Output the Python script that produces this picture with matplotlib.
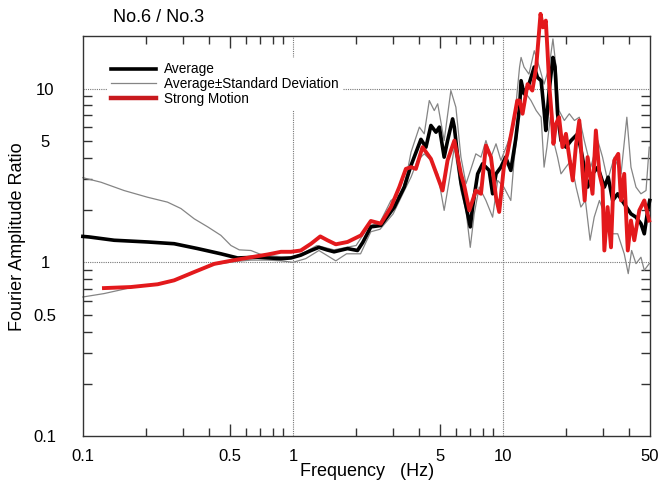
import matplotlib
matplotlib.use("Agg")
import matplotlib.pyplot as plt
from matplotlib.ticker import FixedLocator, FixedFormatter, NullFormatter

plt.rcParams['font.family'] = ['Liberation Sans', 'DejaVu Sans']

# Average
avg_freq = [0.1, 0.107, 0.141, 0.203, 0.272, 0.352, 0.454, 0.545, 0.679, 0.877, 0.978,
            1.09, 1.22, 1.33, 1.45, 1.57, 1.82, 2.03, 2.15, 2.35, 2.62, 3.04, 3.39, 3.65,
            4.07, 4.30, 4.54, 4.80, 4.98, 5.25, 5.45, 5.76, 5.87, 6.09, 6.31, 6.79, 6.99,
            7.17, 7.58, 8.0, 8.6, 8.93, 9.27, 9.78, 10.3, 10.9, 11.5, 12.0, 12.2, 12.6,
            13.3, 14.1, 14.6, 15.2, 15.7, 16.0, 16.6, 17.3, 17.7, 18.2, 18.9, 19.95, 21.1,
            22.7, 23.9, 25.3, 26.7, 28.3, 30.4, 31.7, 33.3, 35.2, 37.8, 40.7, 43.0, 45.4,
            47.1, 48.9, 50.0]
avg_ratio = [1.41, 1.40, 1.34, 1.31, 1.28, 1.20, 1.12, 1.06, 1.07, 1.05, 1.06,
             1.10, 1.17, 1.22, 1.18, 1.15, 1.20, 1.17, 1.30, 1.60, 1.63, 2.08, 2.71, 3.61,
             5.10, 4.60, 6.13, 5.61, 6.00, 4.03, 5.02, 6.69, 6.00, 4.03, 2.89, 1.90, 1.60,
             2.08, 3.23, 3.69, 3.38, 2.48, 3.23, 3.53, 4.03, 3.38, 5.10, 7.81, 11.1, 9.33,
             10.6, 13.3, 11.6, 11.1, 7.47, 5.74, 9.74, 15.1, 13.3, 7.16, 5.02, 4.60, 5.02,
             5.49, 4.03, 2.71, 3.23, 3.53, 2.71, 3.09, 2.27, 2.48, 2.17, 1.90, 1.82, 1.67,
             1.46, 1.99, 2.27]

# Average + Standard Deviation
up_freq = [0.1, 0.122, 0.157, 0.203, 0.253, 0.293, 0.339, 0.393, 0.454, 0.507, 0.555,
           0.631, 0.704, 0.85, 1.0, 1.15, 1.3, 1.57, 1.8, 2.0, 2.3, 2.6, 2.93, 3.3, 3.5,
           3.65, 4.0, 4.22, 4.46, 4.71, 4.89, 5.25, 5.65, 5.97, 6.31, 6.67, 6.92, 7.43,
           7.86, 8.30, 8.77, 9.27, 9.78, 10.5, 11.3, 12.0, 12.2, 12.6, 13.3, 14.1, 14.9,
           15.7, 16.6, 17.3, 17.9, 18.5, 19.6, 20.7, 21.9, 23.1, 24.4, 26.2, 28.3, 29.8,
           31.5, 33.9, 36.5, 38.9, 40.7, 43.0, 45.4, 48.0, 49.7]
up_ratio = [3.07, 2.89, 2.59, 2.37, 2.22, 2.04, 1.78, 1.60, 1.43, 1.25, 1.18,
            1.17, 1.11, 1.08, 1.07, 1.15, 1.25, 1.18, 1.22, 1.25, 1.62, 1.70, 2.27, 2.50, 3.30,
            4.30, 6.00, 5.49, 8.53, 7.47, 8.17, 5.02, 9.74, 7.81, 4.03, 2.83, 3.23, 4.21,
            4.03, 5.02, 4.03, 4.81, 3.86, 4.81, 6.27, 13.3, 15.1, 13.3, 12.1, 16.5, 13.3,
            10.6, 13.3, 19.3, 13.3, 7.47, 6.55, 7.16, 6.55, 6.84, 5.02, 3.53, 5.02, 4.03,
            2.96, 4.03, 3.23, 6.84, 3.53, 2.71, 2.48, 2.59, 4.60]

# Average - Standard Deviation
lo_freq = [0.1, 0.126, 0.169, 0.227, 0.272, 0.339, 0.422, 0.526, 0.631, 0.758, 0.877,
           1.0, 1.15, 1.33, 1.6, 1.8, 2.1, 2.35, 2.6, 3.0, 3.4, 3.65, 3.92, 4.22, 4.54,
           4.89, 5.25, 5.55, 5.87, 6.31, 6.67, 6.99, 7.30, 7.71, 8.30, 8.93, 9.44, 10.1,
           10.9, 11.3, 11.7, 12.2, 12.9, 13.6, 14.4, 15.2, 15.7, 16.2, 16.8, 17.4, 18.2,
           18.9, 19.95, 21.1, 22.3, 23.5, 24.7, 26.0, 27.2, 28.8, 30.4, 32.7, 35.2, 37.8,
           39.5, 41.0, 43.0, 45.4, 47.1, 49.7]
lo_ratio = [0.632, 0.661, 0.715, 0.745, 0.785, 0.875, 0.97, 1.01, 1.03, 1.03, 1.02,
            1.0, 1.05, 1.17, 1.02, 1.12, 1.12, 1.50, 1.55, 1.90, 2.60, 3.09, 3.86, 4.21, 3.86,
            3.23, 1.99, 2.96, 4.60, 2.59, 1.99, 1.22, 1.90, 2.71, 2.27, 1.82, 2.96, 2.71,
            2.27, 3.86, 5.49, 10.2, 9.33, 8.53, 7.47, 6.84, 3.53, 4.60, 6.84, 5.02, 4.03,
            3.23, 3.53, 3.86, 2.71, 2.08, 2.27, 1.34, 1.82, 2.27, 1.90, 1.46, 1.46, 1.12,
            0.861, 1.17, 0.983, 1.07, 0.90, 0.983]

# Strong Motion
sm_freq = [0.126, 0.169, 0.227, 0.272, 0.339, 0.422, 0.526, 0.631, 0.758, 0.877, 0.978,
           1.09, 1.22, 1.35, 1.46, 1.60, 1.82, 2.11, 2.35, 2.62, 2.93, 3.21, 3.45, 3.65,
           3.85, 4.14, 4.54, 4.89, 5.16, 5.45, 5.87, 6.31, 6.54, 6.92, 7.43, 7.86, 8.30,
           8.77, 9.27, 9.60, 10.1, 10.5, 11.1, 11.7, 12.0, 12.4, 13.1, 13.8, 14.4, 15.1,
           15.5, 16.0, 16.3, 16.6, 17.1, 17.4, 17.9, 18.5, 19.2, 19.95, 20.7, 21.5, 22.3,
           23.1, 23.9, 24.5, 25.3, 26.7, 27.7, 28.8, 29.8, 30.4, 31.5, 32.7, 33.9, 35.4,
           36.5, 37.8, 39.3, 40.7, 42.2, 44.6, 47.1, 49.7]
sm_ratio = [0.711, 0.721, 0.748, 0.788, 0.88, 0.98, 1.03, 1.07, 1.11, 1.15, 1.15,
            1.17, 1.28, 1.41, 1.34, 1.27, 1.31, 1.43, 1.73, 1.67, 2.08, 2.71, 3.45, 3.53,
            3.45, 4.60, 3.94, 3.09, 2.59, 3.86, 5.02, 3.23, 2.77, 1.99, 2.59, 2.48, 4.70,
            4.03, 2.37, 1.95, 3.53, 4.21, 6.00, 8.53, 8.53, 7.16, 10.6, 9.74, 13.3, 26.9,
            22.5, 24.6, 16.5, 10.6, 6.84, 4.81, 6.27, 6.84, 4.60, 5.49, 4.03, 2.96, 4.81,
            6.55, 3.38, 2.27, 4.03, 2.48, 5.74, 3.23, 2.71, 1.17, 2.08, 1.22, 3.86, 4.21,
            2.27, 3.23, 1.17, 1.74, 1.34, 1.99, 2.27, 1.74]

x_ticks = [0.1, 0.5, 1, 5, 10, 50]
x_labels = ['0.1', '0.5', '1', '5', '10', '50']
y_ticks = [0.1, 0.5, 1, 5, 10]
y_labels = ['0.1', '0.5', '1', '5', '10']
minor_x = [0.2, 0.3, 0.4, 0.6, 0.7, 0.8, 0.9, 2, 3, 4, 6, 7, 8, 9, 20, 30, 40]
minor_y = [0.2, 0.3, 0.4, 0.6, 0.7, 0.8, 0.9, 2, 3, 4, 6, 7, 8, 9]

fig = plt.figure(figsize=(6.63, 4.83), dpi=100)
ax = fig.add_axes([0.125, 0.097, 0.855, 0.828])

for v in (1, 10):
    ax.axvline(v, color='#777777', ls=(0, (1, 1)), lw=0.8, zorder=1)
    ax.axhline(v, color='#777777', ls=(0, (1, 1)), lw=0.8, zorder=1)

ax.plot(up_freq, up_ratio, color='#858585', lw=0.9, zorder=2, clip_on=False)
ax.plot(lo_freq, lo_ratio, color='#858585', lw=0.9, zorder=2, clip_on=False)
ax.plot(avg_freq, avg_ratio, color='black', lw=2.6, zorder=3, clip_on=False)
ax.plot(sm_freq, sm_ratio, color='#e3191c', lw=2.8, zorder=4, clip_on=False)

h_avg = plt.Line2D([], [], color='black', lw=2.6)
h_sd = plt.Line2D([], [], color='#858585', lw=0.9)
h_sm = plt.Line2D([], [], color='#c81a1e', lw=3.2)
leg = ax.legend([h_avg, h_sd, h_sm], ['Average', 'Average\u00b1Standard Deviation', 'Strong Motion'],
                loc='upper left', bbox_to_anchor=(0.03, 0.962), fontsize=9.8,
                handlelength=3.3, handletextpad=0.6, labelspacing=0.05,
                frameon=True, fancybox=False, framealpha=1, facecolor='white',
                edgecolor='none', borderpad=0.3)

ax.set_xscale('log')
ax.set_yscale('log')
ax.set_xlim(0.1, 50)
ax.set_ylim(0.1, 20)

ax.xaxis.set_major_locator(FixedLocator(x_ticks))
ax.xaxis.set_major_formatter(FixedFormatter(x_labels))
ax.xaxis.set_minor_locator(FixedLocator(minor_x))
ax.xaxis.set_minor_formatter(NullFormatter())
ax.yaxis.set_major_locator(FixedLocator(y_ticks))
ax.yaxis.set_major_formatter(FixedFormatter(y_labels))
ax.yaxis.set_minor_locator(FixedLocator(minor_y))
ax.yaxis.set_minor_formatter(NullFormatter())

ax.tick_params(which='both', direction='in', top=True, right=True, labelsize=12,
               color='#333333', width=1.0)
ax.tick_params(axis='x', which='major', length=8.5, pad=9)
ax.tick_params(axis='x', which='minor', length=5.5)
ax.tick_params(axis='y', which='both', length=6.5, pad=27)

for t, v in zip(ax.xaxis.get_major_ticks(), x_ticks):
    if v in (0.1, 1, 10, 50):
        t.tick1line.set_visible(False)
        t.tick2line.set_visible(False)
for t, v in zip(ax.yaxis.get_major_ticks(), y_ticks):
    if v in (0.1, 1, 10):
        t.tick1line.set_visible(False)
        t.tick2line.set_visible(False)
for lbl in ax.get_yticklabels():
    lbl.set_ha('center')

for s in ax.spines.values():
    s.set_linewidth(1.0)
    s.set_color('#333333')

fig.text(113 / 663, 1 - 18 / 483, 'No.6 / No.3', fontsize=13, va='center', ha='left')
fig.text(367 / 663, 1 - 471 / 483, 'Frequency   (Hz)', fontsize=13, va='center', ha='center')
fig.text(18 / 663, 1 - 237 / 483, 'Fourier Amplitude Ratio', fontsize=13, va='center',
         ha='center', rotation=90)

fig.savefig('out.png', dpi=100)
